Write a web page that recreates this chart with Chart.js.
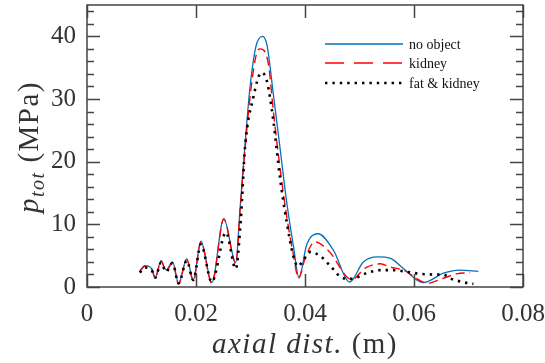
<!DOCTYPE html>
<html>
<head>
<meta charset="utf-8">
<script src="https://cdn.jsdelivr.net/npm/chart.js@4.4.1/dist/chart.umd.min.js"></script>
<style>
body{margin:0;background:#fff;}
#wrap{width:545px;height:363px;position:relative;}
</style>
</head>
<body>
<div id="wrap"><canvas id="ptotChart"></canvas></div>
<script>

/* ---------- DATA ---------- */

const xTicks = [0, 0.02, 0.04, 0.06, 0.08];
const yTicks = [0, 10, 20, 30, 40];

const noObjX = [0.0097,0.0106,0.0119,0.0125,0.0136,0.0145,0.0157,0.0168,0.0183,0.0195,0.0209,0.0229,0.0251,0.0273,0.0281,0.0290,0.0299,0.0310,0.0322,0.0330,0.0342,0.0354,0.0366,0.0379,0.0389,0.0403,0.0424,0.0452,0.0482,0.0507,0.0533,0.0556,0.0580,0.0617,0.0654,0.0684,0.0718];
const noObjY = [2.6,3.4,2.9,1.5,4.2,2.7,4.0,0.6,4.5,1.1,7.3,0.7,10.9,3.9,12.7,22.8,31.8,38.4,40.0,38.7,30.7,22.3,13.8,6.4,1.5,6.7,8.5,5.9,0.8,4.0,4.8,4.6,3.0,0.7,2.2,2.7,2.5];

const kidneyX = [0.0097,0.0106,0.0119,0.0125,0.0136,0.0145,0.0157,0.0168,0.0183,0.0195,0.0209,0.0229,0.0251,0.0273,0.0281,0.0290,0.0300,0.0312,0.0318,0.0333,0.0342,0.0354,0.0366,0.0379,0.0388,0.0400,0.0418,0.0443,0.0486,0.0510,0.0538,0.0556,0.0580,0.0626,0.0648,0.0678,0.0703];
const kidneyY = [2.5,3.3,2.8,1.4,4.1,2.5,3.9,0.5,4.4,1.0,7.2,0.6,10.8,3.8,12.5,22.0,31.0,37.5,38.0,35.5,28.0,19.1,11.5,5.0,1.4,4.5,7.2,5.8,1.2,3.0,3.7,3.2,2.7,0.6,1.2,2.1,2.3];

const fatX = [0.0097,0.0106,0.0119,0.0125,0.0136,0.0145,0.0157,0.0168,0.0183,0.0195,0.0209,0.0229,0.0255,0.0273,0.0282,0.0290,0.0305,0.0320,0.0330,0.0342,0.0354,0.0366,0.0379,0.0387,0.0397,0.0410,0.0430,0.0445,0.0470,0.0486,0.0513,0.0538,0.0560,0.0596,0.0611,0.0639,0.0654,0.0666,0.0694,0.0709];
const fatY = [2.3,3.1,2.6,1.5,3.9,2.4,3.8,0.6,4.2,1.1,6.8,0.8,8.7,2.9,10.5,22.3,30.2,34.2,32.9,26.5,17.5,10.6,4.8,3.3,4.3,5.6,4.8,3.5,1.4,1.3,2.2,2.7,2.7,2.3,2.1,2.0,2.0,1.4,0.7,0.5];

const seriesNames = ["no object", "kidney", "fat & kidney"];


/* ---------- HELPERS ---------- */

function toPoints(xs,ys){
return xs.map((x,i)=>({x:x,y:ys[i]}))
}

const SERIF = "'Liberation Serif','DejaVu Serif',serif";
const INK = "#333";


/* ---------- FRAME, INWARD TICKS, TITLES, LEGEND ---------- */

const decorPlugin = {
id:"decor",
afterDatasetsDraw(chart){
const ctx = chart.ctx;
const a = chart.chartArea;
const xs = chart.scales.x;
const ys = chart.scales.y;

ctx.save();
ctx.strokeStyle = "#444";
ctx.lineWidth = 1.5;
ctx.strokeRect(a.left, a.top, a.right-a.left, a.bottom-a.top);

ctx.beginPath();
// x ticks top and bottom
xTicks.forEach(v=>{
const px = Math.round(xs.getPixelForValue(v))+0.5;
ctx.moveTo(px,a.bottom); ctx.lineTo(px,a.bottom-13);
ctx.moveTo(px,a.top); ctx.lineTo(px,a.top+13);
});
// y ticks left and right, major every 10, minor every 2
for(let v=0; v<=ys.max; v+=2){
const py = Math.round(ys.getPixelForValue(v))+0.5;
const len = (v%10===0) ? 13 : 7;
ctx.moveTo(a.left,py); ctx.lineTo(a.left+len,py);
ctx.moveTo(a.right,py); ctx.lineTo(a.right-len,py);
}
ctx.stroke();

// legend
const lx0 = 325, lx1 = 403, rows = [44,63,83];
chart.data.datasets.forEach((ds,i)=>{
ctx.beginPath();
ctx.strokeStyle = ds.borderColor;
ctx.lineWidth = ds.borderWidth;
ctx.setLineDash(i===1 ? [19,10] : (ds.borderDash||[]));
ctx.moveTo(lx0,rows[i]); ctx.lineTo(lx1,rows[i]);
ctx.stroke();
ctx.setLineDash([]);
ctx.fillStyle = "#111";
ctx.font = "14px "+SERIF;
ctx.textBaseline = "middle";
ctx.textAlign = "left";
ctx.fillText(ds.label, lx1+6, rows[i]+1);
});

// titles drawn in pieces so italic and roman can mix
ctx.fillStyle = INK;
ctx.textBaseline = "alphabetic";
ctx.letterSpacing = "1.5px";

function run(parts){
// parts: [text, font, dy]
const widths = parts.map(p=>{ ctx.font = p[1]; return ctx.measureText(p[0]).width });
const total = widths.reduce((s,w)=>s+w,0);
let x = -total/2;
parts.forEach((p,i)=>{ ctx.font = p[1]; ctx.fillText(p[0], x, p[2]); x += widths[i] });
}

// x axis title
ctx.save();
ctx.translate((a.left+a.right)/2, 353);
run([["axial dist.","italic 29px "+SERIF,0],[" (m)","29px "+SERIF,0]]);
ctx.restore();

// y axis title, rotated
ctx.save();
ctx.translate(38, 147);
ctx.rotate(-Math.PI/2);
run([["p","italic 29px "+SERIF,0],["tot","italic 20px "+SERIF,6],[" (MPa)","29px "+SERIF,0]]);
ctx.restore();

ctx.letterSpacing = "0px";
ctx.restore();
}
}


/* ---------- CHART ---------- */

const ctx = document.getElementById("ptotChart").getContext("2d");

const ptotChart = new Chart(ctx,{
type:"line",
data:{
datasets:[
{
label:seriesNames[0],
data:toPoints(noObjX,noObjY),
borderColor:"#0072BD",
borderWidth:1.3,
order:3
},
{
label:seriesNames[1],
data:toPoints(kidneyX,kidneyY),
borderColor:"#FF0000",
borderWidth:1.4,
borderDash:[9,5],
order:2
},
{
label:seriesNames[2],
data:toPoints(fatX,fatY),
borderColor:"#000000",
borderWidth:2.6,
borderDash:[2.4,5],
order:1
}
]
},
plugins:[decorPlugin],
options:{
responsive:true,
maintainAspectRatio:false,
animation:false,
layout:{autoPadding:false,padding:{top:5,right:22,left:0,bottom:0}},
elements:{
point:{radius:0},
line:{cubicInterpolationMode:"monotone",fill:false}
},
plugins:{
legend:{display:false},
tooltip:{enabled:false}
},
scales:{
x:{
type:"linear",
min:0,
max:0.08,
afterBuildTicks(s){ s.ticks = xTicks.map(v=>({value:v})) },
afterFit(s){ s.height = 76; s.paddingLeft = 0; s.paddingRight = 0 },
grid:{display:false,drawTicks:false},
border:{display:false},
ticks:{
color:INK,
padding:12,
maxRotation:0,
font:{family:SERIF,size:25},
callback:v=>String(v)
}
},
y:{
min:0,
max:45,
afterBuildTicks(s){ s.ticks = yTicks.map(v=>({value:v})) },
afterFit(s){ s.width = 87; s.paddingTop = 0; s.paddingBottom = 0 },
grid:{display:false,drawTicks:false},
border:{display:false},
ticks:{
color:INK,
padding:11,
font:{family:SERIF,size:25},
callback:v=>String(v)
}
}
}
}
})

</script>
</body>
</html>
